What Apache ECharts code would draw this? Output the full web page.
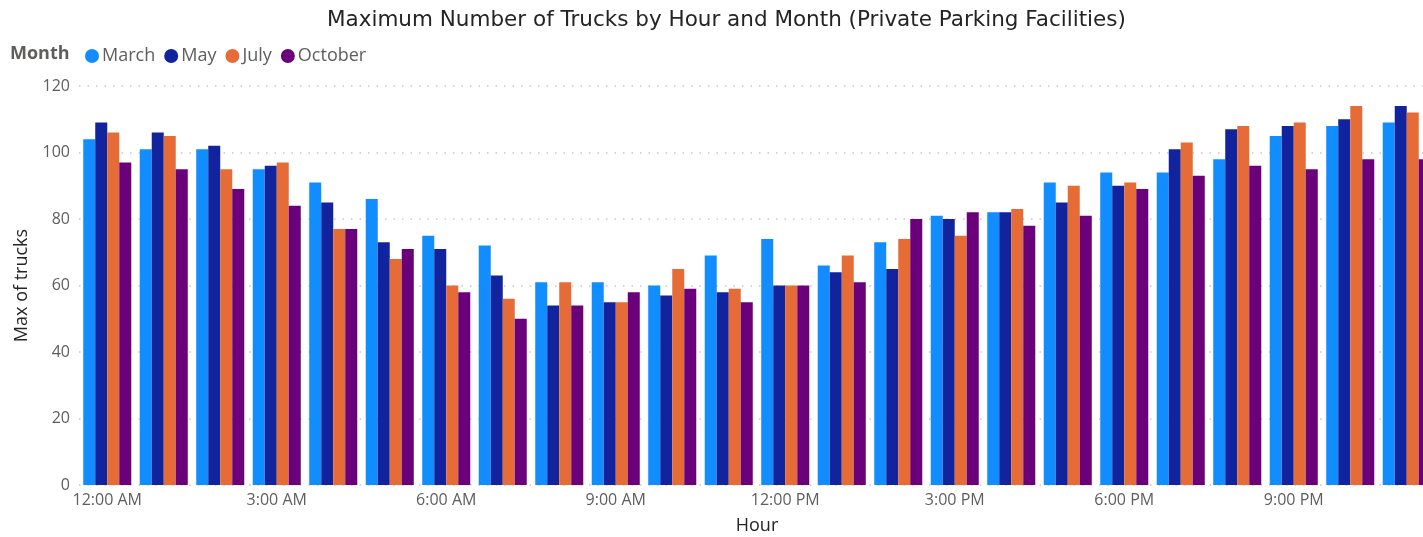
<!DOCTYPE html>
<html>
<head>
<meta charset="utf-8">
<script src="https://cdn.jsdelivr.net/npm/echarts@6/dist/echarts.min.js"></script>
<style>
  html, body { margin: 0; padding: 0; background: #fff; }
  #chart { width: 1423px; height: 537px; }
</style>
</head>
<body>
<div id="chart"></div>
<script>
const hours = [
  "12:00 AM", "1:00 AM", "2:00 AM", "3:00 AM", "4:00 AM", "5:00 AM",
  "6:00 AM", "7:00 AM", "8:00 AM", "9:00 AM", "10:00 AM", "11:00 AM",
  "12:00 PM", "1:00 PM", "2:00 PM", "3:00 PM", "4:00 PM", "5:00 PM",
  "6:00 PM", "7:00 PM", "8:00 PM", "9:00 PM", "10:00 PM", "11:00 PM"
];
const march = [104, 101, 101, 95, 91, 86, 75, 72, 61, 61, 60, 69, 74, 66, 73, 81, 82, 91, 94, 94, 98, 105, 108, 109];
const may = [109, 106, 102, 96, 85, 73, 71, 63, 54, 55, 57, 58, 60, 64, 65, 80, 82, 85, 90, 101, 107, 108, 110, 114];
const july = [106, 105, 95, 97, 77, 68, 60, 56, 61, 55, 65, 59, 60, 69, 74, 75, 83, 90, 91, 103, 108, 109, 114, 112];
const october = [97, 95, 89, 84, 77, 71, 58, 50, 54, 58, 59, 55, 60, 61, 80, 82, 78, 81, 89, 93, 96, 95, 98, 98];
const yTicks = [0, 20, 40, 60, 80, 100, 120];

const seriesList = [
  { name: "March", data: march, color: "#118DFF" },
  { name: "May", data: may, color: "#12239E" },
  { name: "July", data: july, color: "#E66C37" },
  { name: "October", data: october, color: "#6B007B" }
];

const font = "'Open Sans', 'Noto Sans', sans-serif";
const chart = echarts.init(document.getElementById("chart"));

const option = {
  animation: false,
  title: {
    text: "Maximum Number of Trucks by Hour and Month (Private Parking Facilities)",
    left: 322,
    top: 4,
    textStyle: { fontFamily: "'DejaVu Sans', sans-serif", fontSize: 21.5, fontWeight: "normal", color: "#252423" }
  },
  graphic: [{
    type: "text",
    left: 10,
    top: 45,
    style: { text: "Month", font: "bold 18px " + font, fill: "#605E5C" }
  }],
  legend: {
    left: 80,
    top: 42,
    icon: "circle",
    itemWidth: 14,
    itemHeight: 14,
    itemGap: 9,
    textStyle: { fontFamily: font, fontSize: 18, color: "#605E5C", padding: [0, 0, 0, -2] },
    data: seriesList.map(s => s.name)
  },
  grid: {
    left: 79,
    right: -12,
    top: 86,
    bottom: 52,
    containLabel: false,
    outerBoundsMode: "none"
  },
  xAxis: {
    type: "category",
    data: hours,
    name: "Hour",
    nameLocation: "middle",
    nameGap: 32,
    nameTextStyle: { fontFamily: font, fontSize: 18, color: "#252423" },
    axisLine: { show: false },
    axisTick: { show: false },
    axisLabel: { interval: 2, fontFamily: font, fontSize: 16, color: "#605E5C", margin: 7 }
  },
  yAxis: {
    type: "value",
    min: yTicks[0],
    max: yTicks[yTicks.length - 1],
    interval: 20,
    name: "Max of trucks",
    nameLocation: "middle",
    nameGap: 48,
    nameRotate: 90,
    nameTextStyle: { fontFamily: font, fontSize: 18, color: "#252423" },
    axisLine: { show: false },
    axisTick: { show: false },
    axisLabel: { fontFamily: font, fontSize: 16, color: "#605E5C", margin: 9 },
    splitLine: {
      show: true,
      lineStyle: { color: "#C8C6C4", type: [1.5, 7], width: 1.5 }
    }
  },
  series: seriesList.map(s => ({
    name: s.name,
    type: "bar",
    data: s.data,
    barGap: "0%",
    barCategoryGap: "15%",
    itemStyle: { color: s.color }
  }))
};

chart.setOption(option);
</script>
</body>
</html>
